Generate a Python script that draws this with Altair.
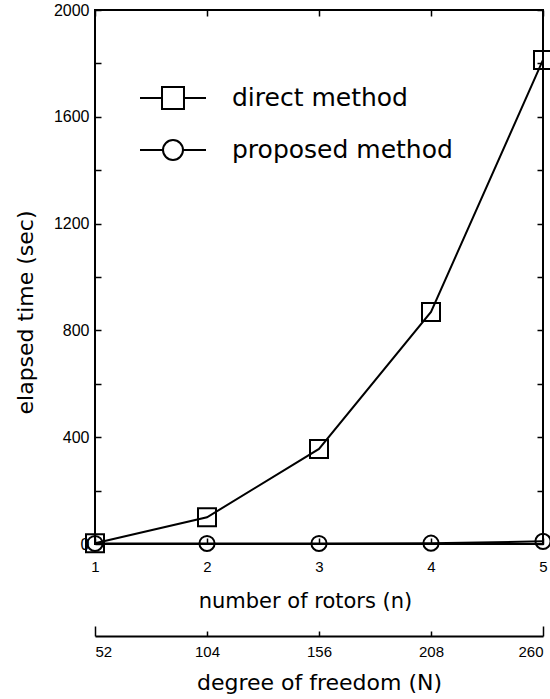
import altair as alt
import pandas as pd

# ---- data ----
rotors = [1, 2, 3, 4, 5]
dof = [52, 104, 156, 208, 260]
dof_end = [52, 260]
dof_mid = [104, 156, 208]
direct_time = [3, 100, 356, 869, 1813]
proposed_time = [2, 2, 2, 3, 10]
methods = ["direct method", "proposed method"]
y_ticks = [0, 200, 400, 600, 800, 1000, 1200, 1400, 1600, 1800, 2000]
y_labels = [0, 400, 800, 1200, 1600, 2000]

rows = []
for m, vals in zip(methods, [direct_time, proposed_time]):
    for n, v, d in zip(rotors, vals, dof):
        rows.append({"n": n, "time": v, "method": m, "N": d})
df = pd.DataFrame(rows)

W, H = 448, 534
DOF_OFFSET = 92
LBL = "Liberation Sans"
TTL = "DejaVu Sans"

xs = alt.Scale(domain=[1, 5], nice=False, zero=False)
ys = alt.Scale(domain=[0, 2000], nice=False, zero=False)
ns = alt.Scale(domain=[52, 260], nice=False, zero=False)

def tick_axis(orient, values, offset):
    return alt.Axis(orient=orient, values=values, offset=offset, labels=False,
                    domain=False, grid=False, tickSize=6, tickWidth=1.5,
                    tickColor="black", title=None)

base = alt.Chart(df)

lines = base.mark_line(color="black", strokeWidth=2).encode(
    x=alt.X("n:Q", scale=xs, axis=alt.Axis(
        orient="bottom", values=rotors, format="d", tickSize=0, domain=False,
        grid=False, labelFont=LBL, labelFontSize=15, labelColor="black",
        labelPadding=15, labelFlush=False, title="number of rotors (n)",
        titleFont=TTL, titleFontSize=21, titleFontWeight="normal",
        titleColor="black", titlePadding=16, titleX=210)),
    y=alt.Y("time:Q", scale=ys, axis=alt.Axis(
        orient="left", values=y_labels, format="d", tickSize=0, domain=False,
        grid=False, labelFont=LBL, labelFontSize=16, labelColor="black",
        labelPadding=6, title="elapsed time (sec)", titleFont=TTL,
        titleFontSize=22, titleFontWeight="normal", titleColor="black",
        titleX=-70, titleY=302, titleBaseline="middle", titleAlign="center")),
    detail="method:N",
)

points = base.mark_point(filled=False, color="black", strokeWidth=2, opacity=1).encode(
    x=alt.X("n:Q", scale=xs, axis=None),
    y=alt.Y("time:Q", scale=ys, axis=None),
    shape=alt.Shape("method:N", scale=alt.Scale(domain=methods, range=["square", "circle"]), legend=None),
    size=alt.Size("method:N", scale=alt.Scale(domain=methods, range=[324, 230]), legend=None),
)

sq_path = "M-1,0H-0.333M0.333,0H1M-0.333,-0.333H0.333V0.333H-0.333Z"
ci_path = ("M-1,0H-0.303M0.303,0H1M-0.303,0A0.303,0.303,0,1,1,0.303,0"
           "A0.303,0.303,0,1,1,-0.303,0Z")

legend_layer = base.transform_filter("datum.n < 0").mark_point(
    filled=False, color="black", strokeWidth=2, opacity=1).encode(
    x=alt.X("n:Q", scale=xs, axis=None),
    y=alt.Y("time:Q", scale=ys, axis=None),
    shape=alt.Shape("method:N", scale=alt.Scale(domain=methods, range=[sq_path, ci_path]),
                    legend=alt.Legend(orient="none", legendX=44, legendY=54, title=None,
                                      symbolSize=4356, symbolStrokeWidth=2,
                                      symbolStrokeColor="black", symbolOpacity=1,
                                      labelFont=TTL, labelFontSize=25,
                                      labelColor="black", labelOffset=25,
                                      rowPadding=3, padding=0, labelLimit=400)),
)

ticks_a = base.mark_point(opacity=0).encode(
    x=alt.X("n:Q", scale=xs, axis=tick_axis("top", rotors, -H)),
    y=alt.Y("time:Q", scale=ys, axis=tick_axis("right", y_ticks, -W)),
)
ticks_b = base.mark_point(opacity=0).encode(
    x=alt.X("n:Q", scale=xs, axis=tick_axis("bottom", rotors, -H)),
    y=alt.Y("time:Q", scale=ys, axis=tick_axis("left", y_ticks, -W)),
)

# second (degree of freedom) axis below the plot
dof_axis = base.mark_point(opacity=0).encode(
    x=alt.X("N:Q", scale=ns, axis=alt.Axis(
        orient="bottom", values=dof, format="d", offset=DOF_OFFSET, tickSize=0,
        domain=True, domainColor="black", domainWidth=2, grid=False,
        labelFont=LBL, labelFontSize=15, labelColor="black", labelPadding=8,
        title="degree of freedom (N)", titleFont=TTL, titleFontSize=22,
        titleFontWeight="normal", titleColor="black", titlePadding=13)),
    y=alt.Y("time:Q", scale=ys, axis=None),
)
dof_end_ticks = base.mark_point(opacity=0).encode(
    x=alt.X("N:Q", scale=ns, axis=alt.Axis(
        orient="top", values=dof_end, offset=-(H + DOF_OFFSET), labels=False,
        domain=False, grid=False, tickSize=10, tickWidth=1.5, tickColor="black",
        title=None)),
    y=alt.Y("time:Q", scale=ys, axis=None),
)
dof_mid_ticks = base.mark_point(opacity=0).encode(
    x=alt.X("N:Q", scale=ns, axis=alt.Axis(
        orient="top", values=dof_mid, offset=-(H + DOF_OFFSET), labels=False,
        domain=False, grid=False, tickSize=5, tickWidth=1.5, tickColor="black",
        title=None)),
    y=alt.Y("time:Q", scale=ys, axis=None),
)

chart = alt.layer(lines, points, legend_layer, ticks_a, ticks_b,
                  dof_axis, dof_end_ticks, dof_mid_ticks).resolve_scale(
    x="independent", shape="independent", size="independent").resolve_axis(
    x="independent", y="independent").properties(
    width=W, height=H,
    autosize=alt.AutoSizeParams(type="none"),
    padding={"left": 95, "top": 10, "right": 7, "bottom": 155},
    background="white",
).configure_view(stroke="black", strokeWidth=2)

chart.save("out.html", embed_options={"renderer": "svg", "actions": False})
